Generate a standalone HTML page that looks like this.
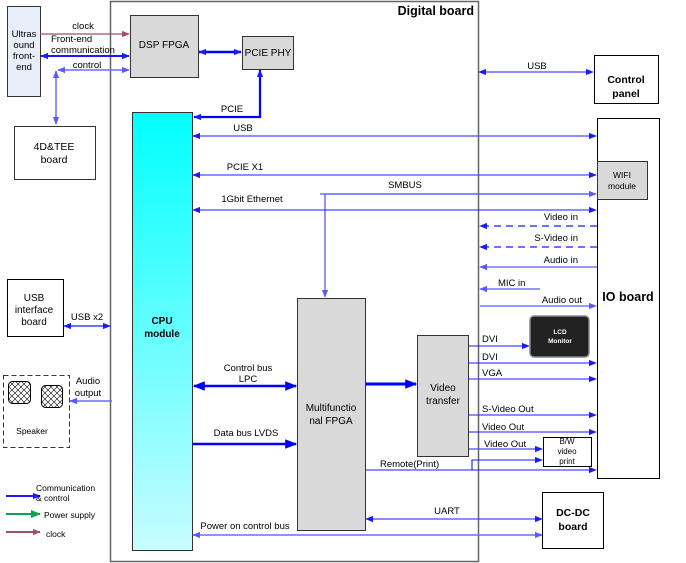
<!DOCTYPE html>
<html><head><meta charset="utf-8"><style>
html,body{margin:0;padding:0;background:#fff;}
svg{display:block;font-family:"Liberation Sans","DejaVu Sans",sans-serif;}
text{font-size:9.5px;fill:#000;}
</style></head><body>
<svg width="686" height="563" viewBox="0 0 686 563" xmlns="http://www.w3.org/2000/svg">
<defs>
<linearGradient id="cg" x1="0" y1="0" x2="0" y2="1"><stop offset="0" stop-color="#00ffff"/><stop offset="1" stop-color="#c8fcff"/></linearGradient>
<pattern id="hx" width="6" height="6" patternUnits="userSpaceOnUse"><path d="M0 0L6 6M6 0L0 6" stroke="#000" stroke-width="0.6"/></pattern>
<marker id="a" viewBox="0 0 10 10" refX="9" refY="5" markerWidth="8" markerHeight="8" markerUnits="userSpaceOnUse" orient="auto-start-reverse"><path d="M0 1L10 5L0 9z" fill="#1a1aff"/></marker>
<marker id="al" viewBox="0 0 10 10" refX="9" refY="5" markerWidth="8" markerHeight="8" markerUnits="userSpaceOnUse" orient="auto-start-reverse"><path d="M0 1L10 5L0 9z" fill="#5a5aff"/></marker>
<marker id="at" viewBox="0 0 10 10" refX="9" refY="5" markerWidth="12" markerHeight="12" markerUnits="userSpaceOnUse" orient="auto-start-reverse"><path d="M0 1L10 5L0 9z" fill="#0000ff"/></marker>
<marker id="ar" viewBox="0 0 10 10" refX="9" refY="5" markerWidth="8" markerHeight="8" markerUnits="userSpaceOnUse" orient="auto"><path d="M0 1L10 5L0 9z" fill="#a05060"/></marker>
<marker id="ag" viewBox="0 0 10 10" refX="9" refY="5" markerWidth="10" markerHeight="10" markerUnits="userSpaceOnUse" orient="auto"><path d="M0 1L10 5L0 9z" fill="#10a050"/></marker>
</defs>

<rect x="110.5" y="1.5" width="368" height="560" fill="none" stroke="#666" stroke-width="1.5"/>
<text x="474" y="15" text-anchor="end" style="font-size:12.5px;font-weight:bold">Digital board</text>

<rect x="7.5" y="6.5" width="33" height="90" fill="#e8eef8" stroke="#333"/>
<text x="24" y="37" text-anchor="middle">Ultras</text><text x="24" y="48" text-anchor="middle">ound</text><text x="24" y="59" text-anchor="middle">front-</text><text x="24" y="70" text-anchor="middle">end</text>
<rect x="130.5" y="15.5" width="68" height="62" fill="#d9d9d9" stroke="#333"/>
<text x="164" y="48" text-anchor="middle" style="font-size:10px">DSP FPGA</text>
<rect x="242.5" y="36.5" width="51" height="33" fill="#d9d9d9" stroke="#333"/>
<text x="268" y="56" text-anchor="middle" style="font-size:10px">PCIE PHY</text>
<rect x="14.5" y="126.5" width="81" height="53" fill="#fff" stroke="#333"/>
<text x="54" y="150" text-anchor="middle" style="font-size:10.5px">4D&amp;TEE</text><text x="54" y="163" text-anchor="middle" style="font-size:10.5px">board</text>
<rect x="132.5" y="112.5" width="60" height="438" fill="url(#cg)" stroke="#333"/>
<text x="162" y="324" text-anchor="middle" style="font-size:10px;font-weight:bold">CPU</text><text x="162" y="337" text-anchor="middle" style="font-size:10px;font-weight:bold">module</text>
<rect x="594.5" y="55.5" width="64" height="48" fill="#fff" stroke="#000"/>
<text x="626" y="83" text-anchor="middle" style="font-size:10.5px;font-weight:bold">Control</text><text x="626" y="97" text-anchor="middle" style="font-size:10.5px;font-weight:bold">panel</text>
<rect x="597.5" y="118.5" width="62" height="360" fill="#fff" stroke="#000"/>
<text x="628" y="301" text-anchor="middle" style="font-size:12.5px;font-weight:bold">IO board</text>
<rect x="597.5" y="161.5" width="50" height="38" fill="#d9d9d9" stroke="#333"/>
<text x="622" y="178" text-anchor="middle" style="font-size:8.5px">WIFI</text><text x="622" y="189" text-anchor="middle" style="font-size:8.5px">module</text>
<rect x="7.5" y="279.5" width="56" height="57" fill="#fff" stroke="#000"/>
<text x="34" y="301" text-anchor="middle" style="font-size:10px">USB</text><text x="34" y="313" text-anchor="middle" style="font-size:10px">interface</text><text x="34" y="325" text-anchor="middle" style="font-size:10px">board</text>
<rect x="3.5" y="375.5" width="66" height="72" fill="none" stroke="#333" stroke-dasharray="5,3"/>
<rect x="8.5" y="381.5" width="22" height="22" rx="4" fill="url(#hx)" stroke="#000"/>
<rect x="41.5" y="385.5" width="21" height="22" rx="4" fill="url(#hx)" stroke="#000"/>
<text x="32" y="434" text-anchor="middle" style="font-size:8.5px">Speaker</text>
<rect x="297.5" y="298.5" width="68" height="232" fill="#d9d9d9" stroke="#333"/>
<text x="331" y="411" text-anchor="middle" style="font-size:10px">Multifunctio</text><text x="331" y="424" text-anchor="middle" style="font-size:10px">nal FPGA</text>
<rect x="417.5" y="335.5" width="51" height="121" fill="#d9d9d9" stroke="#333"/>
<text x="443" y="391" text-anchor="middle" style="font-size:10px">Video</text><text x="443" y="404" text-anchor="middle" style="font-size:10px">transfer</text>
<rect x="530" y="316" width="59" height="41" rx="4" fill="#222" stroke="#888" stroke-width="1.5"/>
<text x="560" y="334" text-anchor="middle" style="font-size:6.5px;fill:#fff;font-weight:bold">LCD</text><text x="560" y="343" text-anchor="middle" style="font-size:6.5px;fill:#fff;font-weight:bold">Monitor</text>
<rect x="543.5" y="437.5" width="48" height="29" fill="#fff" stroke="#000"/>
<text x="567" y="444" text-anchor="middle" style="font-size:8px">B/W</text><text x="567" y="454" text-anchor="middle" style="font-size:8px">video</text><text x="567" y="464" text-anchor="middle" style="font-size:8px">print</text>
<rect x="542.5" y="492.5" width="61" height="56" fill="#fff" stroke="#000"/>
<text x="573" y="516" text-anchor="middle" style="font-size:10.5px;font-weight:bold">DC-DC</text><text x="573" y="530" text-anchor="middle" style="font-size:10.5px;font-weight:bold">board</text>

<g fill="none">
<line x1="40" y1="34" x2="129" y2="34" stroke="#a05060" stroke-width="1.3" marker-end="url(#ar)"/>
<line x1="41" y1="56" x2="129" y2="56" stroke="#1a1aff" stroke-width="2" marker-start="url(#a)" marker-end="url(#a)"/>
<line x1="58" y1="70" x2="129" y2="70" stroke="#6b6bff" stroke-width="1.5" marker-start="url(#al)" marker-end="url(#al)"/>
<line x1="56" y1="71" x2="56" y2="124" stroke="#6b6bff" stroke-width="1.5" marker-start="url(#al)" marker-end="url(#al)"/>
<line x1="199" y1="52" x2="241" y2="52" stroke="#0000ff" stroke-width="2.5" marker-start="url(#a)" marker-end="url(#a)"/>
<polyline points="260,70 260,117 194,117" stroke="#0000ff" stroke-width="2.2" marker-start="url(#a)" marker-end="url(#a)"/>
<line x1="479" y1="72" x2="593" y2="72" stroke="#1a1aff" stroke-width="1" marker-start="url(#a)" marker-end="url(#a)"/>
<line x1="193" y1="136" x2="596" y2="136" stroke="#4a4aff" stroke-width="1.3" marker-start="url(#a)" marker-end="url(#a)"/>
<line x1="193" y1="175" x2="596" y2="175" stroke="#4a4aff" stroke-width="1.3" marker-start="url(#a)" marker-end="url(#a)"/>
<polyline points="596,194 325,194 325,297" stroke="#5a5aff" stroke-width="1.3" marker-end="url(#al)"/>
<line x1="320" y1="194" x2="596" y2="194" stroke="#5a5aff" stroke-width="1.3" marker-end="url(#al)"/>
<line x1="193" y1="210" x2="596" y2="210" stroke="#1a1aff" stroke-width="1.1" marker-start="url(#a)" marker-end="url(#a)"/>
<line x1="597" y1="226" x2="480" y2="226" stroke="#1a1aff" stroke-width="1.3" stroke-dasharray="7,5" marker-end="url(#a)"/>
<line x1="597" y1="247" x2="480" y2="247" stroke="#1a1aff" stroke-width="1.3" stroke-dasharray="7,5" marker-end="url(#a)"/>
<line x1="597" y1="267" x2="480" y2="267" stroke="#5a5aff" stroke-width="1.3" marker-end="url(#al)"/>
<line x1="540" y1="289" x2="480" y2="289" stroke="#5a5aff" stroke-width="1.3" marker-end="url(#al)"/>
<line x1="480" y1="306" x2="596" y2="306" stroke="#5a5aff" stroke-width="1.3" marker-end="url(#al)"/>
<line x1="469" y1="346" x2="529" y2="346" stroke="#1a1aff" stroke-width="1.1" marker-end="url(#a)"/>
<line x1="469" y1="363" x2="596" y2="363" stroke="#1a1aff" stroke-width="1.1" marker-end="url(#a)"/>
<line x1="469" y1="379" x2="596" y2="379" stroke="#4a4aff" stroke-width="1.3" marker-end="url(#a)"/>
<line x1="469" y1="415" x2="596" y2="415" stroke="#1a1aff" stroke-width="1.1" marker-end="url(#a)"/>
<line x1="469" y1="432" x2="596" y2="432" stroke="#1a1aff" stroke-width="1.1" marker-end="url(#a)"/>
<line x1="469" y1="449" x2="542" y2="449" stroke="#4a4aff" stroke-width="1.3" marker-end="url(#a)"/>
<line x1="366" y1="470" x2="596" y2="470" stroke="#1a1aff" stroke-width="1.1" marker-end="url(#a)"/>
<polyline points="472,470 472,460 542,460" stroke="#1a1aff" stroke-width="1.1" marker-end="url(#a)"/>
<line x1="366" y1="519" x2="542" y2="519" stroke="#1a1aff" stroke-width="1.1" marker-start="url(#a)" marker-end="url(#a)"/>
<line x1="193" y1="535" x2="542" y2="535" stroke="#6b6bff" stroke-width="1.6" marker-start="url(#al)" marker-end="url(#al)"/>
<line x1="194" y1="386" x2="296" y2="386" stroke="#0000ff" stroke-width="2.5" marker-start="url(#at)" marker-end="url(#at)"/>
<line x1="193" y1="444" x2="296" y2="444" stroke="#0000ff" stroke-width="2.5" marker-end="url(#at)"/>
<line x1="366" y1="384" x2="416" y2="384" stroke="#0000ff" stroke-width="3" marker-end="url(#at)"/>
<line x1="64" y1="326" x2="110" y2="326" stroke="#1a1aff" stroke-width="1.3" marker-start="url(#a)" marker-end="url(#a)"/>
<line x1="112" y1="401" x2="70" y2="401" stroke="#6b6bff" stroke-width="1.5" marker-end="url(#al)"/>
<line x1="6" y1="496" x2="40" y2="496" stroke="#1a1aff" stroke-width="2" marker-end="url(#a)"/>
<line x1="6" y1="514" x2="40" y2="514" stroke="#10a050" stroke-width="2" marker-end="url(#ag)"/>
<line x1="6" y1="532" x2="40" y2="532" stroke="#a05060" stroke-width="2" marker-end="url(#ar)"/>
</g>

<text x="83" y="29" text-anchor="middle">clock</text>
<text x="51" y="42">Front-end</text><text x="51" y="53">communication</text>
<text x="87" y="68" text-anchor="middle">control</text>
<text x="232" y="112" text-anchor="middle">PCIE</text>
<text x="243" y="131" text-anchor="middle">USB</text>
<text x="537" y="69" text-anchor="middle">USB</text>
<text x="245" y="170" text-anchor="middle">PCIE X1</text>
<text x="405" y="188" text-anchor="middle">SMBUS</text>
<text x="252" y="202" text-anchor="middle">1Gbit Ethernet</text>
<text x="578" y="220" text-anchor="end">Video in</text>
<text x="578" y="241" text-anchor="end">S-Video in</text>
<text x="578" y="263" text-anchor="end">Audio in</text>
<text x="498" y="286">MIC in</text>
<text x="582" y="303" text-anchor="end">Audio out</text>
<text x="482" y="342">DVI</text><text x="482" y="360">DVI</text><text x="482" y="376">VGA</text>
<text x="482" y="412">S-Video Out</text><text x="482" y="430">Video Out</text><text x="484" y="447">Video Out</text>
<text x="380" y="467">Remote(Print)</text>
<text x="447" y="514" text-anchor="middle">UART</text>
<text x="245" y="529" text-anchor="middle">Power on control bus</text>
<text x="248" y="371" text-anchor="middle">Control bus</text><text x="248" y="382" text-anchor="middle">LPC</text>
<text x="246" y="436" text-anchor="middle">Data bus LVDS</text>
<text x="87" y="320" text-anchor="middle">USB x2</text>
<text x="88" y="384" text-anchor="middle">Audio</text><text x="88" y="396" text-anchor="middle">output</text>
<text x="36" y="491" style="font-size:8.5px">Communication</text><text x="36" y="501" style="font-size:8.5px">&amp; control</text>
<text x="44" y="518" style="font-size:8.5px">Power supply</text>
<text x="46" y="537" style="font-size:8.5px">clock</text>
</svg>
</body></html>
